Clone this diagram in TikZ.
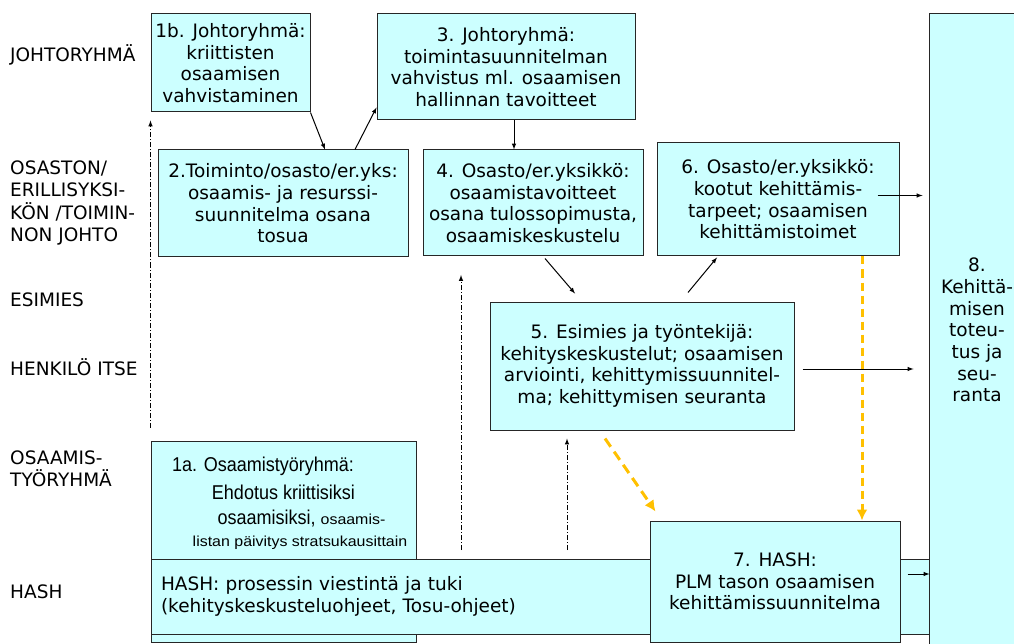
\documentclass[tikz,border=0pt]{standalone}
\usepackage{fontspec}
\setmainfont{DejaVu Sans}
\newfontfamily\arialnarrow[FakeStretch=0.9]{Liberation Sans}
\newfontfamily\arialwide[FakeStretch=1.1]{Liberation Sans}
\usepackage{xcolor}
\usepackage{tikz}
\usetikzlibrary{arrows.meta}
\definecolor{boxfill}{HTML}{CCFFFF}
\definecolor{hashorange}{HTML}{FFC000}

\begin{document}
\begin{tikzpicture}[x=1pt, y=-1pt,
    stepbox/.style={draw=black!85, line width=1pt, fill=boxfill, align=center, inner sep=0pt,
        font=\fontsize{18.5pt}{21.7pt}\selectfont},
    lanelabel/.style={anchor=west, align=left, inner sep=0pt,
        font=\fontsize{18.5pt}{22.5pt}\selectfont},
    arr/.style={-latex, line width=1pt},
    dashdot/.style={-latex, line width=1pt, dash pattern=on 5pt off 2pt on 1pt off 2pt},
    orangearr/.style={-{Latex[length=11pt,width=11pt]}, hashorange, line width=3pt,
        dash pattern=on 10pt off 6pt},
]
    \useasboundingbox (0,0) rectangle (1014,644);

    % tasot vasemmalla
    \node[lanelabel] (lJohto) at (10,55) {JOHTORYHMÄ};
    \node[lanelabel] (lOsasto) at (10,203) {OSASTON/\\ERILLISYKSI-\\KÖN /TOIMIN-\\NON JOHTO};
    \node[lanelabel] (lEsimies) at (10,300) {ESIMIES};
    \node[lanelabel] (lHenkilo) at (10,367) {HENKILÖ ITSE};
    \node[lanelabel] (lOsaamis) at (10,469) {OSAAMIS-\\TYÖRYHMÄ};
    \node[lanelabel] (lHash) at (10,592) {HASH};

    % vaiheet
    \node[stepbox, minimum width=159pt, minimum height=98pt] (b1) at (230.5,63)
        {1b. Johtoryhmä:\\kriittisten\\osaamisen\\vahvistaminen};
    \node[stepbox, minimum width=250pt, minimum height=107pt] (b2) at (283,203.5)
        {2.Toiminto/osasto/er.yks:\\osaamis- ja resurssi-\\suunnitelma osana\\tosua};
    \node[stepbox, minimum width=258pt, minimum height=106pt] (b3) at (506,67)
        {3. Johtoryhmä:\\toimintasuunnitelman\\vahvistus ml. osaamisen\\hallinnan tavoitteet};
    \node[stepbox, minimum width=220pt, minimum height=106pt] (b4) at (533,203)
        {4. Osasto/er.yksikkö:\\osaamistavoitteet\\osana tulossopimusta,\\osaamiskeskustelu};
    \node[stepbox, minimum width=242pt, minimum height=113pt] (b6) at (778,199.5)
        {6. Osasto/er.yksikkö:\\kootut kehittämis-\\tarpeet; osaamisen\\kehittämistoimet};
    \node[stepbox, minimum width=304pt, minimum height=128pt] (b5) at (642,366)
        {5. Esimies ja työntekijä:\\kehityskeskustelut; osaamisen\\arviointi, kehittymissuunnitel-\\ma; kehittymisen seuranta};
    \node[stepbox, minimum width=96pt, minimum height=632pt] (b8) at (977,330)
        {8.\\Kehittä-\\misen\\toteu-\\tus ja\\seu-\\ranta};

    % 1a, HASH-palkki ja 7 päällekkäin
    \node[stepbox, minimum width=265pt, minimum height=201pt] (a1) at (283.5,541.5) {};
    \node[inner sep=0pt, align=center, anchor=north, font=\arialnarrow\fontsize{20pt}{28pt}\selectfont] (a1t) at (283.5,457)
        {1a. Osaamistyöryhmä:\hspace*{41pt}\\Ehdotus kriittisiksi\hspace*{13pt}\\[-3pt]\hspace*{36pt}osaamisiksi, {\arialwide\fontsize{14.5pt}{16pt}\selectfont osaamis-}\\[-6pt]\hspace*{33pt}{\arialwide\fontsize{14.5pt}{16pt}\selectfont listan päivitys stratsukausittain}};
    \node[stepbox, align=left, text width=758pt, inner xsep=10pt, minimum height=75pt] (bar) at (540,596.5)
        {HASH: prosessin viestintä ja tuki\\(kehityskeskusteluohjeet, Tosu-ohjeet)};
    \node[stepbox, minimum width=250pt, minimum height=121pt] (b7) at (775,581.5)
        {7. HASH:\\PLM tason osaamisen\\kehittämissuunnitelma};

    % nuolet
    \draw[arr] (b1.south east) -- ([xshift=42pt]b2.north);
    \draw[arr] ([xshift=72pt]b2.north) -- ([yshift=13pt]b3.south west);
    \draw[arr] ([xshift=8pt]b3.south) -- ([xshift=-19pt]b4.north);
    \draw[arr] ([xshift=12pt,yshift=-2pt]b4.south) -- ([xshift=-67pt,yshift=8pt]b5.north);
    \draw[arr] ([xshift=46pt,yshift=9pt]b5.north) -- ([xshift=-61pt,yshift=-1pt]b6.south);
    \draw[arr] ([xshift=-22pt,yshift=4pt]b6.east) -- ([xshift=23pt,yshift=4pt]b6.east);
    \draw[arr] ([xshift=8pt,yshift=-3pt]b5.east) -- ([xshift=119pt,yshift=-3pt]b5.east);
    \draw[arr] ([xshift=-22pt,yshift=22.5pt]bar.east) -- ([yshift=22.5pt]bar.east);

    % palaute (pistekatkoviiva)
    \coordinate (d2a) at (461,550);
    \coordinate (d2b) at (461,275);
    \coordinate (d3) at (567,550);
    \draw[dashdot] ([yshift=13pt]a1.north west) -- ([yshift=-8pt]b1.south west);
    \draw[dashdot] (d2a) -- (d2b);
    \draw[dashdot] (d3) -- ([xshift=-75pt,yshift=-8pt]b5.south);

    % oranssit
    \draw[orangearr] ([xshift=-37pt,yshift=-8pt]b5.south) -- ([xshift=6pt,yshift=9pt]b7.north west);
    \draw[orangearr, dash pattern=on 8pt off 5pt] ([xshift=84pt]b6.south) coordinate (o6) -- (o6 |- b7.north);
\end{tikzpicture}
\end{document}
